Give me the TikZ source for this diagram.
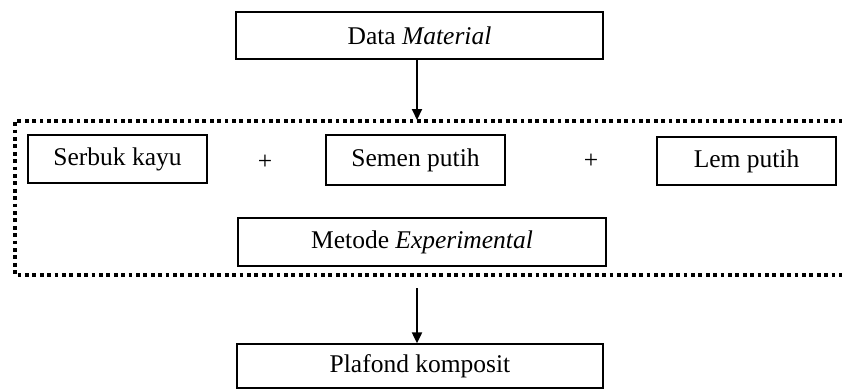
\documentclass[tikz,border=0pt]{standalone}
\usepackage{fontspec}
\setmainfont{Liberation Serif}
\usetikzlibrary{arrows.meta}
\begin{document}
\begin{tikzpicture}[x=1pt,y=-1pt,
  box/.style={draw, line width=1.3pt, inner sep=0pt, minimum height=48pt, font=\fontsize{25.5}{30}\selectfont},
  plus/.style={inner sep=0pt, font=\fontsize{25.5}{30}\selectfont},
  flow/.style={line width=2pt, -{Triangle[length=11pt,width=10pt]}},
  group/.style={line width=3.2pt, dash pattern=on 3.8pt off 3.6pt}]
\useasboundingbox (0,0) rectangle (842,389);
\node[box, minimum width=367pt, minimum height=47pt] (data) at (419.5,35.5) {Data \textit{Material}};
\node[box, minimum width=179pt] (serbuk) at (117.5,159) {Serbuk kayu};
\node[plus] (p1) at (265,162) {+};
\node[box, minimum width=179pt, minimum height=50pt] (semen) at (415.5,160) {Semen putih};
\node[plus] (p2) at (591,161) {+};
\node[box, minimum width=179pt] (lem) at (746.5,161) {Lem putih};
\node[box, minimum width=368pt] (metode) at (422,242) {Metode \textit{Experimental}};
\node[box, minimum width=366pt, minimum height=44pt] (plafond) at (420,366) {Plafond komposit};
\coordinate (gtop) at (417,120);
\coordinate (gbot) at (417,288);
\draw[group] (850,121) -- (15,121) -- (15,275) -- (850,275);
\draw[flow] (data.south -| gtop) -- (gtop);
\draw[flow] (gbot) -- (plafond.north -| gbot);
\end{tikzpicture}
\end{document}
